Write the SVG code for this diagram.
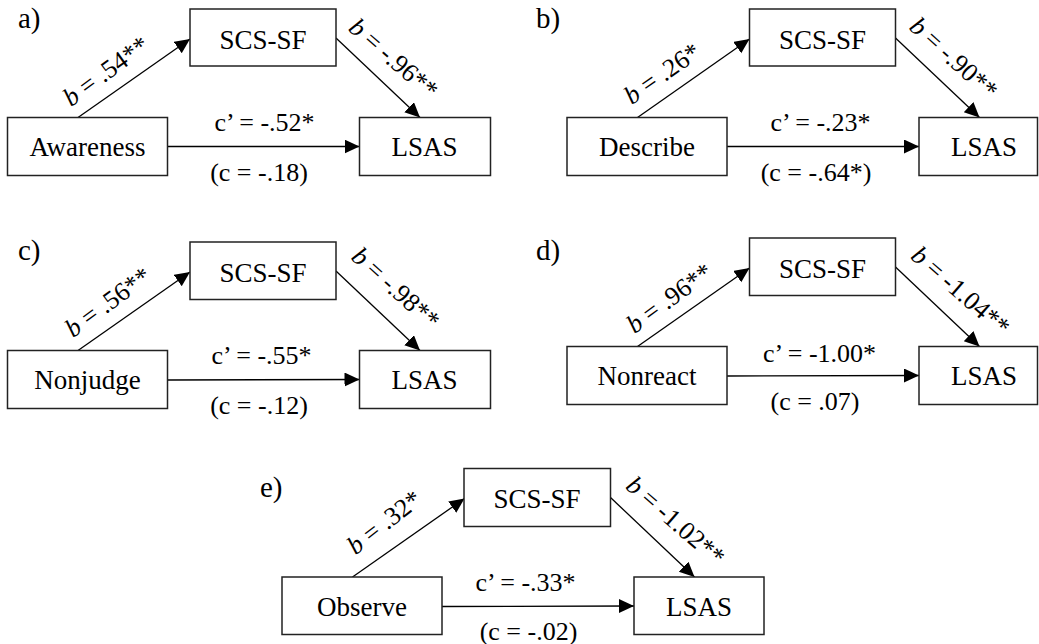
<svg xmlns="http://www.w3.org/2000/svg" width="1039" height="644" viewBox="0 0 1039 644" font-family="Liberation Serif, Times New Roman, serif">
<defs>
<marker id="ah" markerUnits="userSpaceOnUse" markerWidth="16" markerHeight="16" refX="15" refY="7" orient="auto">
<path d="M0,0 L15,7 L0,14 z" fill="#000"/>
</marker>
<style>
.box{fill:#fff;stroke:#222;stroke-width:1.5}
.t{font-size:27px;text-anchor:middle}
.lbl{font-size:26px;text-anchor:middle}
.pl{font-size:29px}
.e{stroke:#000;stroke-width:1.3;fill:none;marker-end:url(#ah)}
</style>
</defs>
<rect width="1039" height="644" fill="#fff"/>

<g id="panel-letters">
<text class="pl" x="18" y="28">a)</text>
<text class="pl" x="536" y="28">b)</text>
<text class="pl" x="18" y="260">c)</text>
<text class="pl" x="536" y="260">d)</text>
<text class="pl" x="260" y="497">e)</text>
</g>

<g id="connectors">
<line class="e" x1="78" y1="117.5" x2="190" y2="39"/>
<line class="e" x1="336" y1="38" x2="420" y2="117.5"/>
<line class="e" x1="167.5" y1="146.5" x2="359.5" y2="146.5"/>
<line class="e" x1="637.5" y1="117.5" x2="749.5" y2="39"/>
<line class="e" x1="895.5" y1="38" x2="979.5" y2="117.5"/>
<line class="e" x1="727" y1="146.5" x2="919" y2="146.5"/>
<line class="e" x1="78" y1="350.5" x2="190" y2="272"/>
<line class="e" x1="336" y1="271" x2="420" y2="350.5"/>
<line class="e" x1="167.5" y1="380" x2="359.5" y2="379.5"/>
<line class="e" x1="637.5" y1="346.5" x2="749.5" y2="268"/>
<line class="e" x1="895.5" y1="267" x2="979.5" y2="346.5"/>
<line class="e" x1="727" y1="376" x2="919" y2="375.5"/>
<line class="e" x1="352.5" y1="577" x2="464.5" y2="498.5"/>
<line class="e" x1="610.5" y1="497.5" x2="694.5" y2="577"/>
<line class="e" x1="442" y1="606.5" x2="634" y2="606"/>
</g>

<g id="edge-labels">
<text class="lbl" transform="translate(111,78) rotate(-36)"><tspan font-style="italic">b</tspan> = .54**</text>
<text class="lbl" transform="translate(388,65) rotate(41)"><tspan font-style="italic">b</tspan> = -.96**</text>
<text class="lbl" x="264.5" y="131">c’ = -.52*</text>
<text class="lbl" x="259" y="181">(c = -.18)</text>
<text class="lbl" transform="translate(667,80.5) rotate(-35)"><tspan font-style="italic">b</tspan> = .26*</text>
<text class="lbl" transform="translate(948,64.5) rotate(42)"><tspan font-style="italic">b</tspan> = -.90**</text>
<text class="lbl" x="820.5" y="131">c’ = -.23*</text>
<text class="lbl" x="816" y="181">(c = -.64*)</text>
<text class="lbl" transform="translate(113,309) rotate(-36)"><tspan font-style="italic">b</tspan> = .56**</text>
<text class="lbl" transform="translate(390,294.5) rotate(42)"><tspan font-style="italic">b</tspan> = -.98**</text>
<text class="lbl" x="261.5" y="363.5">c’ = -.55*</text>
<text class="lbl" x="259" y="413.5">(c = -.12)</text>
<text class="lbl" transform="translate(674.5,305) rotate(-36)"><tspan font-style="italic">b</tspan> = .96**</text>
<text class="lbl" transform="translate(955,297.5) rotate(41)"><tspan font-style="italic">b</tspan> = -1.04**</text>
<text class="lbl" x="819.5" y="361.5">c’ = -1.00*</text>
<text class="lbl" x="815" y="409.5">(c = .07)</text>
<text class="lbl" transform="translate(389.5,529) rotate(-38)"><tspan font-style="italic">b</tspan> = .32*</text>
<text class="lbl" transform="translate(670,527.5) rotate(41)"><tspan font-style="italic">b</tspan> = -1.02**</text>
<text class="lbl" x="525.5" y="590.5">c’ = -.33*</text>
<text class="lbl" x="528.5" y="640">(c = -.02)</text>
</g>

<g id="a-scs"><rect class="box" x="190" y="9" width="146" height="57"/><text class="t" x="263" y="48.5">SCS-SF</text></g>
<g id="a-awareness"><rect class="box" x="7.5" y="117.5" width="160" height="58"/><text class="t" x="87.5" y="156">Awareness</text></g>
<g id="a-lsas"><rect class="box" x="359.5" y="117.5" width="131" height="58"/><text class="t" x="424.5" y="156">LSAS</text></g>

<g id="b-scs"><rect class="box" x="749.5" y="9" width="146" height="57"/><text class="t" x="822.5" y="48.5">SCS-SF</text></g>
<g id="b-describe"><rect class="box" x="567" y="117.5" width="160" height="58"/><text class="t" x="647" y="156">Describe</text></g>
<g id="b-lsas"><rect class="box" x="919" y="117.5" width="118.5" height="58"/><text class="t" x="984" y="156">LSAS</text></g>

<g id="c-scs"><rect class="box" x="190" y="242" width="146" height="57.5"/><text class="t" x="263" y="281.5">SCS-SF</text></g>
<g id="c-nonjudge"><rect class="box" x="7.5" y="350.5" width="160" height="58"/><text class="t" x="87.5" y="389">Nonjudge</text></g>
<g id="c-lsas"><rect class="box" x="359.5" y="350.5" width="131" height="58"/><text class="t" x="424.5" y="389">LSAS</text></g>

<g id="d-scs"><rect class="box" x="749.5" y="238" width="146" height="57.5"/><text class="t" x="822.5" y="277.5">SCS-SF</text></g>
<g id="d-nonreact"><rect class="box" x="567" y="346.5" width="160" height="58"/><text class="t" x="647" y="385">Nonreact</text></g>
<g id="d-lsas"><rect class="box" x="919" y="346.5" width="118.5" height="58"/><text class="t" x="984" y="385">LSAS</text></g>

<g id="e-scs"><rect class="box" x="464" y="468.5" width="146.5" height="58"/><text class="t" x="537" y="508">SCS-SF</text></g>
<g id="e-observe"><rect class="box" x="282" y="577" width="160" height="57.5"/><text class="t" x="362" y="615.5">Observe</text></g>
<g id="e-lsas"><rect class="box" x="634" y="577" width="130" height="57.5"/><text class="t" x="699" y="615.5">LSAS</text></g>
</svg>
